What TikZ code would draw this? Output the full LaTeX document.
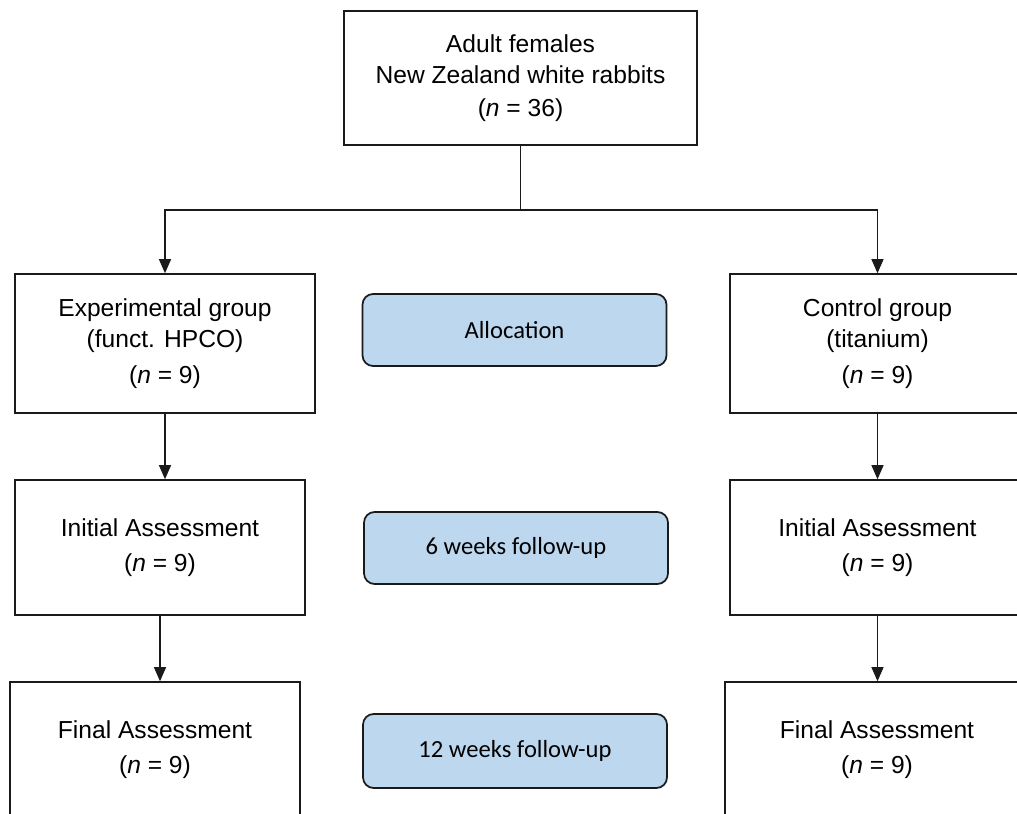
\documentclass[tikz,border=0pt]{standalone}
\usepackage{fontspec}
\setmainfont{Liberation Sans}
\newfontfamily\calibri{Carlito}
\usepackage{tikz}
\usepackage{xcolor}
\usetikzlibrary{arrows.meta,positioning}
\definecolor{Edge}{HTML}{1A1A1A}
\definecolor{SoftBlue}{HTML}{BDD7EE}
\newcommand{\boxfont}{\fontsize{14}{17.6}\selectfont}

\begin{document}
\begin{tikzpicture}[x=0.02cm,y=-0.02cm,
  box/.style={draw=Edge,line width=0.9pt,fill=white,align=center,inner sep=2pt,font=\boxfont},
  phase/.style={rounded corners=6pt,draw=Edge,line width=1pt,fill=SoftBlue,minimum width=6.08cm,minimum height=1.44cm,align=center,font=\calibri\boxfont},
  arrow/.style={-{Triangle[length=2.8mm,width=2.4mm]},line width=0.6pt,draw=Edge},
  link/.style={line width=0.6pt,draw=Edge}
]
\useasboundingbox (0,0) rectangle (1017,814);
\clip (0,0) rectangle (1017,814);
% source
\node[box,minimum width=7.06cm,minimum height=2.68cm] (rabbits) at (520.5,78) {Adult females\\New Zealand white rabbits\\[1pt](\textit{n} = 36)};
% groups
\node[box,minimum width=6.0cm,minimum height=2.78cm] (exper) at (165,343.5) {Experimental group\\(funct. HPCO)\\[3pt](\textit{n} = 9)};
\node[box,minimum width=5.9cm,minimum height=2.78cm] (ctrl) at (877.5,343.5) {Control group\\(titanium)\\[3pt](\textit{n} = 9)};
\node[box,minimum width=5.8cm,minimum height=2.7cm] (initexp) at (160,547.5) {Initial Assessment\\[2pt](\textit{n} = 9)};
\node[box,minimum width=5.9cm,minimum height=2.7cm] (initctrl) at (877.5,547.5) {Initial Assessment\\[2pt](\textit{n} = 9)};
\node[box,minimum width=5.8cm,minimum height=2.7cm] (finexp) at (155,749.5) {Final Assessment\\[2pt](\textit{n} = 9)};
\node[box,minimum width=6.08cm,minimum height=2.7cm] (finctrl) at (877,749.5) {Final Assessment\\[2pt](\textit{n} = 9)};
% phases
\node[phase] (alloc) at (514.5,330) {Allocation};
\node[phase] (six) at (516,548) {6 weeks follow-up};
\node[phase,minimum height=1.48cm] (twelve) at (515,751) {12 weeks follow-up};
% connectors
\coordinate (split) at (rabbits.south |- 0,210);
\draw[link] (rabbits.south) -- (split);
\draw[arrow] (split) -| (exper.north);
\draw[arrow] (split) -| (ctrl.north);
\draw[arrow] (exper.south) -- (exper.south |- initexp.north);
\draw[arrow] (ctrl.south) -- (ctrl.south |- initctrl.north);
\draw[arrow] (initexp.south) -- (initexp.south |- finexp.north);
\draw[arrow] (initctrl.south) -- (initctrl.south |- finctrl.north);
\end{tikzpicture}
\end{document}
